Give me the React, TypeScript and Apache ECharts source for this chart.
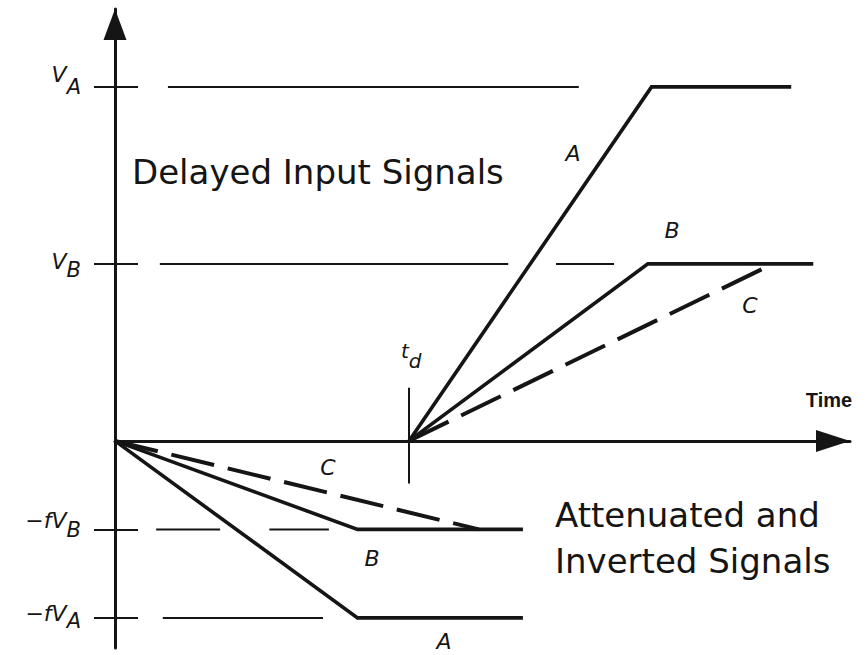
import React, { useEffect, useRef } from 'react';
import * as echarts from 'echarts';

// Data units: time on x, voltage on y (V_A = 1)
const TIME_MIN = 0;
const TIME_MAX = 10;
const V_MIN = -0.585;
const V_MAX = 1.22;

const V_A = 1;
const V_B = 0.5;
const F = 0.5;
const TD = 4;

const levelValues = [V_A, V_B, -F * V_B, -F * V_A];
const levelMain = ['V', 'V', '\u2212fV', '\u2212fV'];
const levelSub = ['A', 'B', 'B', 'A'];

const delayedA = [[TD, 0], [7.3, V_A], [9.2, V_A]];
const delayedB = [[TD, 0], [7.25, V_B], [9.5, V_B]];
const delayedC = [[TD, 0], [8.95, V_B]];
const invertedA = [[0, 0], [3.3, -F * V_A], [5.55, -F * V_A]];
const invertedB = [[0, 0], [3.3, -F * V_B], [5.55, -F * V_B]];
const invertedC = [[0, 0], [4.95, -F * V_B]];

// Broken reference lines at each level: [start time, end time]
const refSegVA = [[0.72, 6.31]];
const refSegVB = [[0.61, 5.35], [6.0, 6.79]];
const refSegFVB = [[0.56, 1.43], [2.1, 2.91]];
const refSegFVA = [[0.65, 2.83]];
const refSegments = [refSegVA, refSegVB, refSegFVB, refSegFVA];

const tdMarker = [[TD, 0.15], [TD, -0.12]];

const curveLabels = ['A', 'B', 'C', 'C', 'B', 'A'];
const curveLabelPos = [
  [573, 153], [672, 230], [750, 305], [328, 467], [372, 558], [444, 641],
];

const INK = '#151515';
const FONT = 'DejaVu Sans';

export default function App() {
  const ref = useRef<HTMLDivElement>(null);

  useEffect(() => {
    if (!ref.current) return;
    const chart = echarts.init(ref.current, null, { renderer: 'svg' });

    // padding-top of [main, sub] tokens inside a 60px line
    const pads = [[7, 20], [17, 26], [10, 20], [15, 23]];
    const rich: any = {};
    pads.forEach(([pm, ps], i) => {
      rich['m' + i] = {
        fontSize: 22, fontStyle: 'italic', fontFamily: FONT, color: INK,
        lineHeight: 60, verticalAlign: 'top', padding: [pm, 0, 0, 0],
      };
      rich['s' + i] = {
        fontSize: 21, fontStyle: 'italic', fontFamily: FONT, color: INK,
        lineHeight: 60, verticalAlign: 'top', padding: [ps, 0, 0, 0],
      };
    });

    const series: any[] = [];
    refSegments.forEach((segs, i) => {
      segs.forEach(([x0, x1]) => {
        series.push({
          type: 'line',
          data: [[x0, levelValues[i]], [x1, levelValues[i]]],
          symbol: 'none', silent: true, z: 2,
          lineStyle: { color: INK, width: 2 },
        });
      });
    });
    series.push({
      type: 'line', data: tdMarker, symbol: 'none', silent: true, z: 2,
      lineStyle: { color: INK, width: 2 },
    });
    const solid = (d: number[][]) => ({
      type: 'line', data: d, symbol: 'none', silent: true, z: 3,
      lineStyle: { color: INK, width: 3.6, join: 'miter' },
    });
    const dashed = (d: number[][]) => ({
      type: 'line', data: d, symbol: 'none', silent: true, z: 3,
      lineStyle: { color: INK, width: 4, type: [44, 14] },
    });
    series.push(solid(delayedA), solid(delayedB), dashed(delayedC));
    series.push(solid(invertedA), solid(invertedB), dashed(invertedC));

    const graphic: any[] = [
      {
        type: 'text', x: 132, y: 172,
        style: {
          text: 'Delayed Input Signals', fill: INK, fontFamily: FONT, fontSize: 34,
          align: 'left', verticalAlign: 'middle', textAlign: 'left', textVerticalAlign: 'middle',
        },
      },
      {
        type: 'text', x: 555, y: 538,
        style: {
          text: 'Attenuated and\nInverted Signals', fill: INK, fontFamily: FONT, fontSize: 34,
          lineHeight: 46,
          align: 'left', verticalAlign: 'middle', textAlign: 'left', textVerticalAlign: 'middle',
        },
      },
      {
        type: 'text', x: 401, y: 351,
        style: {
          text: '{t|t}{d|d}', fill: INK,
          align: 'left', verticalAlign: 'middle', textAlign: 'left', textVerticalAlign: 'middle',
          rich: {
            t: { fontSize: 20, fontStyle: 'italic', fontFamily: FONT, fill: INK, color: INK, lineHeight: 20, verticalAlign: 'top', padding: [0, 0, 10, 0] },
            d: { fontSize: 20, fontStyle: 'italic', fontFamily: FONT, fill: INK, color: INK, lineHeight: 20, verticalAlign: 'top', padding: [10, 0, 0, 0] },
          },
        },
      },
    ];
    curveLabels.forEach((t, i) => {
      graphic.push({
        type: 'text', x: curveLabelPos[i][0], y: curveLabelPos[i][1],
        style: {
          text: t, fill: INK, fontFamily: FONT, fontSize: 22, fontStyle: 'italic',
          align: 'center', verticalAlign: 'middle', textAlign: 'center', textVerticalAlign: 'middle',
        },
      });
    });

    chart.setOption({
      animation: false,
      backgroundColor: '#ffffff',
      grid: { left: 115, right: 18, top: 9, bottom: 7, outerBoundsMode: 'none', containLabel: false },
      xAxis: {
        type: 'value', min: TIME_MIN, max: TIME_MAX,
        name: 'Time', nameLocation: 'end', nameGap: -21,
        nameTextStyle: {
          align: 'center', verticalAlign: 'bottom', fontFamily: 'Liberation Sans',
          fontWeight: 'bold', fontSize: 20, color: INK, lineHeight: 20, padding: [0, 0, 31, 0],
        },
        axisLine: {
          show: true, onZero: true,
          symbol: ['none', 'triangle'], symbolSize: [22, 34], symbolOffset: [0, -17],
          lineStyle: { color: INK, width: 3 },
        },
        axisTick: { show: false },
        axisLabel: { show: false },
        splitLine: { show: false },
      },
      yAxis: [
        {
          type: 'value', min: V_MIN, max: V_MAX, position: 'left',
          axisLine: {
            show: true, onZero: false,
            symbol: ['none', 'triangle'], symbolSize: [23, 31], symbolOffset: [0, -15.5],
            lineStyle: { color: INK, width: 3 },
          },
          axisTick: {
            show: true, inside: false, length: 21, customValues: levelValues,
            lineStyle: { color: INK, width: 2 },
          },
          splitLine: { show: false },
          axisLabel: {
            show: true,
            customValues: levelValues,
            margin: 34,
            formatter: (v: number) => {
              const i = levelValues.findIndex((l) => Math.abs(l - v) < 1e-6);
              if (i < 0) return '';
              return `{m${i}|${levelMain[i]}}{s${i}|${levelSub[i]}}`;
            },
            rich,
          },
        },
        {
          type: 'value', min: V_MIN, max: V_MAX, position: 'left',
          axisLine: { show: false, onZero: false },
          axisTick: {
            show: true, inside: true, length: 23, customValues: levelValues,
            lineStyle: { color: INK, width: 2 },
          },
          axisLabel: { show: false },
          splitLine: { show: false },
        },
      ],
      series,
      graphic,
    });

    return () => chart.dispose();
  }, []);

  return (
    <div
      ref={ref}
      style={{ position: 'fixed', left: 0, top: 0, width: 868, height: 655, background: '#fff' }}
    />
  );
}
